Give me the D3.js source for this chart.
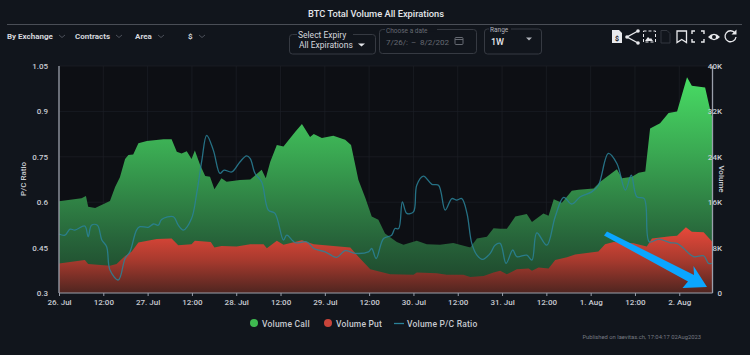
<!DOCTYPE html>
<html><head><meta charset="utf-8">
<script src="https://cdn.jsdelivr.net/npm/d3@7"></script>
<style>html,body{margin:0;padding:0;background:#11151c;overflow:hidden}svg{display:block}text{font-family:Roboto,sans-serif}</style>
</head><body><svg id="c" width="750" height="355"></svg>
<script>
// hours since 26 Jul 00:00
const callHours=[0,6.1,7.3,7.9,9.8,13.8,15.2,16.5,17.9,18.8,20.1,21.5,23.8,28.3,30.5,31.9,33.2,34.6,35.9,36.8,38.2,39.6,40.9,42.1,44,45.4,49,51.8,54.9,56,57.2,59,60.8,64,65.8,68,69,71.2,74.3,77.5,79.1,81.1,83,84.7,86.5,88.3,91.5,93.3,96.9,99.6,103.2,106.8,111.4,113.2,115.9,117.7,119.5,121.3,123.6,126.7,128.1,131.2,132.6,134,136.2,138.9,140.7,144.8,146.6,151.1,152.5,155.2,157,158.8,160.1,162.8,165.1,167.4,170.1,171.4,175,176.4,177];
const callValues=[16.15,16.7,17.1,15.2,15.0,16.2,18.7,20.4,23.6,24.3,24.4,26.4,26.8,27.1,27.1,24.9,24.6,25.0,23.6,25.1,22.6,20.6,20.5,18.3,20.2,19.6,19.9,20.0,21.7,20.2,23.1,26.1,25.8,28.4,29.8,27.5,28.0,27.3,27.7,27.0,26.1,19.9,16.7,13.5,12.9,10.5,9.0,8.5,9.2,8.6,8.5,8.8,8.0,9.6,9.9,11.4,11.3,11.3,13.5,13.9,12.5,14.0,13.6,16.5,15.9,18.0,18.2,18.4,19.6,21.8,20.2,20.5,21.2,21.4,29.0,29.9,31.7,32.0,38.0,36.5,36.2,32.2,30.8];
const putHours=[0,7,7.9,13.8,15.6,17.9,19.7,21.5,26.5,30.5,32.3,35.9,36.8,41.1,42.1,44,48.1,51.8,55.4,56.3,59,60.8,65.8,69,78.9,81.1,84.3,89.7,96,96.9,102.3,105,109.5,111.4,115,117.7,119.5,121.3,124,127.2,128.1,129.9,132.6,134.4,137.6,139.8,146.1,147.9,150.2,155.6,159.2,160.6,165.6,167.4,169.8,171.4,174.6,177];
const putValues=[5.2,5.8,5.1,4.8,5.1,6.5,7.3,8.9,9.5,9.6,8.4,8.6,9.2,9.0,8.0,8.3,8.2,8.6,8.6,7.9,9.2,8.5,9.3,8.6,8.0,6.4,4.2,3.3,3.2,3.6,3.5,3.2,3.2,2.8,3.0,3.6,3.9,3.3,4.2,4.3,3.9,4.5,4.3,5.8,6.3,6.8,7.3,8.6,9.0,8.75,8.2,9.6,10.0,10.1,11.6,10.8,10.7,9.0];
const ratioHours=[0,1.6,3,4.3,7,7.9,8.8,10.4,11.6,12.9,13.8,16.1,17.9,19.2,21,21.9,24.2,25.6,26.9,27.8,31,32.3,33.7,35.9,37.3,38.7,40,41.8,43.6,44.7,46.8,49,50.8,51.8,53.1,54.9,56.7,58.5,60.8,61.7,64,67.1,69,72.1,75.2,77.5,80.2,83.8,84.7,85.9,87.9,90.1,91,92,93,94.2,96,96.9,98.7,101,102.8,104.6,106.4,107.7,109.1,110.5,111.8,113.2,114.7,116.8,118.1,119.5,121.1,122.9,124,126.7,128.1,129.4,132.1,134.4,136.7,138.9,141.2,144.3,146.1,148.8,151.1,153.4,155,156.5,158.5,159.9,162.4,165.6,167.4,169.2,171.9,174.6,175.9,176.8];
const ratioValues=[.495,.491,.511,.508,.521,.486,.524,.524,.475,.453,.376,.343,.414,.436,.508,.519,.517,.528,.524,.543,.552,.524,.508,.546,.629,.739,.821,.772,.695,.706,.700,.733,.753,.744,.695,.667,.574,.563,.475,.491,.466,.469,.447,.436,.418,.440,.431,.436,.447,.414,.480,.491,.513,.513,.601,.563,.568,.656,.686,.659,.656,.574,.612,.607,.612,.563,.464,.425,.411,.431,.458,.464,.398,.442,.420,.425,.409,.499,.458,.552,.616,.594,.618,.634,.656,.761,.728,.640,.689,.618,.612,.469,.478,.466,.464,.447,.420,.423,.398,.398];
const xTickHours=[0,12,24,36,48,60,72,84,96,108,120,132,144,156,168];
const xTickLabels=["26. Jul","12:00","27. Jul","12:00","28. Jul","12:00","29. Jul","12:00","30. Jul","12:00","31. Jul","12:00","1. Aug","12:00","2. Aug"];
const leftTicks=[.3,.45,.6,.75,.9,1.05];
const rightTicks=[0,8,16,24,32,40];
const seriesNames=["Volume Call","Volume Put","Volume P/C Ratio"];

const L=59,R=712.5,T=66,B=293;
const svg=d3.select("#c");
const x=d3.scaleLinear().domain([0,177]).range([L,R]);
const yL=d3.scaleLinear().domain([.3,1.05]).range([B,T]);
const yR=d3.scaleLinear().domain([0,40]).range([B,T]);
const fmtL=d=>(+d.toFixed(2)).toString();
const fmtR=d=>d===0?"0":d+"K";
const dim="#c9ccd3";

const defs=svg.append("defs");
function grad(id,y1,y2,stops){const g=defs.append("linearGradient").attr("id",id).attr("gradientUnits","userSpaceOnUse").attr("x1",0).attr("x2",0).attr("y1",y1).attr("y2",y2);
 stops.forEach(s=>g.append("stop").attr("offset",s[0]).attr("stop-color",s[1]));}
grad("gc",yR(38),B,[[0,"#48dc64"],[.35,"#3aa852"],[.75,"#27643a"],[1,"#1c4029"]]);
grad("gp",yR(11.6),B,[[0,"#e8493a"],[.5,"#a83a2e"],[1,"#4f2520"]]);

svg.append("rect").attr("width",750).attr("height",355).attr("fill","#11151c");
svg.append("rect").attr("x",L).attr("y",T).attr("width",R-L).attr("height",B-T).attr("fill","#0d0f14");

// grid
svg.append("g").selectAll("line").data(xTickHours).join("line").attr("x1",d=>x(d)).attr("x2",d=>x(d)).attr("y1",T).attr("y2",B).attr("stroke","#1c2027").attr("stroke-width",.7);
svg.append("g").selectAll("line").data(rightTicks).join("line").attr("x1",L).attr("x2",R).attr("y1",d=>yR(d)).attr("y2",d=>yR(d)).attr("stroke","#1c2027").attr("stroke-width",.7);

// areas
const zipS=(h,v)=>h.map((t,i)=>[t,v[i]]);
const area=d3.area().x(d=>x(d[0])).y0(B).y1(d=>yR(d[1]));
svg.append("path").attr("d",area(zipS(callHours,callValues))).attr("fill","url(#gc)");
svg.append("path").attr("d",area(zipS(putHours,putValues))).attr("fill","url(#gp)");
svg.append("path").attr("d",d3.line().x(d=>x(d[0])).y(d=>yL(d[1])).curve(d3.curveCatmullRom.alpha(.5))(zipS(ratioHours,ratioValues)))
 .attr("fill","none").attr("stroke","#2a8299").attr("stroke-width",1.3).attr("stroke-opacity",.85);

// axis lines
const ax="#9a9fab";
svg.append("line").attr("x1",L).attr("x2",L).attr("y1",T).attr("y2",B).attr("stroke",ax).attr("stroke-width",1.3);
svg.append("line").attr("x1",R).attr("x2",R).attr("y1",T).attr("y2",B).attr("stroke",ax).attr("stroke-width",1.3);
svg.append("line").attr("x1",L).attr("x2",R).attr("y1",B).attr("y2",B).attr("stroke",ax).attr("stroke-width",1);

// axes labels
const xg=svg.append("g").attr("transform",`translate(0,${B})`).call(d3.axisBottom(x).tickValues(xTickHours).tickFormat((d,i)=>xTickLabels[i]).tickSize(3).tickPadding(2));
xg.select(".domain").remove();xg.selectAll("line").attr("stroke",ax);
xg.selectAll("text").attr("fill",dim).attr("font-size",8).attr("font-weight",500).attr("font-family","Roboto").attr("dy","0.85em");
const yg=svg.append("g").attr("transform",`translate(48,0)`).call(d3.axisLeft(yL).tickValues(leftTicks).tickFormat(fmtL).tickSize(0).tickPadding(0));
yg.select(".domain").remove();yg.selectAll("text").attr("fill",dim).attr("font-size",8).attr("font-weight",500).attr("font-family","Roboto");
const yr=svg.append("g").attr("transform",`translate(722,0)`).call(d3.axisLeft(yR).tickValues(rightTicks).tickFormat(fmtR).tickSize(0).tickPadding(0));
yr.select(".domain").remove();yr.selectAll("text").attr("fill",dim).attr("font-size",8).attr("font-weight",500).attr("font-family","Roboto");
function t(s,px,py,o={}){return svg.append("text").text(s).attr("x",px).attr("y",py).attr("fill",o.c||dim).attr("font-size",o.s||8).attr("font-weight",o.w||400).attr("text-anchor",o.a||"start").attr("letter-spacing",o.ls||0);}
t("P/C Ratio",0,0,{a:"middle",w:500}).attr("transform",`translate(26,179) rotate(-90)`);
t("Volume",0,0,{a:"middle",w:500}).attr("transform",`translate(719,179) rotate(90)`);

// arrow annotation
svg.append("path").attr("d","M604,235.5 L607,231.5 L694,275 L693.5,266 L707,287 L682.5,288 L688,281.5 Z").attr("fill","#0ba6ff");

// header
t("BTC Total Volume All Expirations",376,17,{a:"middle",s:9.3,w:500,c:"#e4e6ea"});
svg.append("line").attr("x1",7).attr("x2",742).attr("y1",24.5).attr("y2",24.5).attr("stroke","#4a4e56");
[["By Exchange",7,62],["Contracts",75,119],["Area",135,161],["$",188,202]].forEach(d=>{
 t(d[0],d[1],39,{s:8,w:700,c:"#d5d7dc"});
 svg.append("path").attr("d",`M${d[2]-3},35 l3,2.5 l3,-2.5`).attr("fill","none").attr("stroke","#5b606a").attr("stroke-width",.8);
});
function box(x0,y0,w,h,lx,lw,label,c,s){
 svg.append("rect").attr("x",x0).attr("y",y0).attr("width",w).attr("height",h).attr("rx",3).attr("fill","none").attr("stroke","#363a42");
 svg.append("rect").attr("x",lx).attr("y",y0-2).attr("width",lw).attr("height",4).attr("fill","#11151c");
 t(label,lx+1,y0+3,{s:s,c:c});
}
box(289.5,34.5,86,19.5,297,56,"Select Expiry","#d5d7dc",8.5);
t("All Expirations",299,48,{s:8.5,c:"#d5d7dc"});
svg.append("path").attr("d","M358,43.5 h7 l-3.5,3 z").attr("fill","#e4e6ea");
box(379.5,29.5,97,24,385,52,"Choose a date","#666a72",6.5);
t("7/26/:",386,44.5,{s:8,c:"#666a72"});t("–",411,44.5,{s:8,c:"#666a72"});t("8/2/202",420,44.5,{s:8,c:"#666a72"});
svg.append("rect").attr("x",455).attr("y",37.5).attr("width",8).attr("height",7).attr("rx",1).attr("fill","none").attr("stroke","#666a72");
svg.append("line").attr("x1",455).attr("x2",463).attr("y1",39.5).attr("y2",39.5).attr("stroke","#666a72");
box(484.5,29,57,25,489,22,"Range","#b0b3ba",6.5);
t("1W",491,44.5,{s:9,w:500,c:"#e4e6ea"});
svg.append("path").attr("d","M526,37.5 h6 l-3,3 z").attr("fill","#b0b3ba");

// toolbar icons
const ic="#e8e9ec";
svg.append("path").attr("d","M612,30 h7 l3,3 v10 h-10 z").attr("fill",ic);
t("$",617,41,{s:7,w:700,c:"#11151c",a:"middle"});
svg.append("path").attr("d","M638,31 L627,37 L638,43").attr("fill","none").attr("stroke",ic).attr("stroke-width",1.4);
[[638,31],[627,37],[638,43]].forEach(p=>svg.append("circle").attr("cx",p[0]).attr("cy",p[1]).attr("r",1.8).attr("fill",ic));
svg.append("rect").attr("x",643.5).attr("y",31).attr("width",12).attr("height",11).attr("fill","none").attr("stroke",ic).attr("stroke-dasharray","3 2");
svg.append("path").attr("d","M645,41 l3,-4 l2,2 l1,-1 l2,3 z").attr("fill",ic);
svg.append("path").attr("d","M661,30.5 h6 l3,3 v9.5 h-9 z").attr("fill","none").attr("stroke","#33373f");
svg.append("path").attr("d","M677,31 h9.5 v11.5 l-4.75,-3 l-4.75,3 z").attr("fill","none").attr("stroke",ic).attr("stroke-width",1.3);
svg.append("path").attr("d","M692,34 v-3 h3 M701,31 h3 v3 M704,39 v3 h-3 M695,42 h-3 v-3").attr("fill","none").attr("stroke",ic).attr("stroke-width",1.4);
svg.append("path").attr("d","M708,37 q6,-6.5 12,0 q-6,6.5 -12,0 z").attr("fill",ic);
svg.append("circle").attr("cx",714).attr("cy",37).attr("r",2).attr("fill","#11151c");
svg.append("path").attr("d","M735,33 a5.5,5.5 0 1 0 1,4").attr("fill","none").attr("stroke",ic).attr("stroke-width",1.3);
svg.append("path").attr("d","M736.5,29.5 v5 h-5 z").attr("fill",ic);

// legend
[["#3fb950",254],["#c8443a",328]].forEach(d=>svg.append("circle").attr("cx",d[1]).attr("cy",323).attr("r",4).attr("fill",d[0]));
t(seriesNames[0],262,326.5,{s:8.5,w:500,c:"#c6c9cf",ls:.2});
t(seriesNames[1],336,326.5,{s:8.5,w:500,c:"#c6c9cf",ls:.2});
svg.append("line").attr("x1",394).attr("x2",404).attr("y1",323.5).attr("y2",323.5).attr("stroke","#2a8299").attr("stroke-width",1.3);
t(seriesNames[2],407,326.5,{s:8.5,w:500,c:"#c6c9cf",ls:.2});
t("Published on laevitas.ch, 17:04:17 02Aug2023",701,338.5,{s:5.8,a:"end",c:"#777b83"});
</script></body></html>
